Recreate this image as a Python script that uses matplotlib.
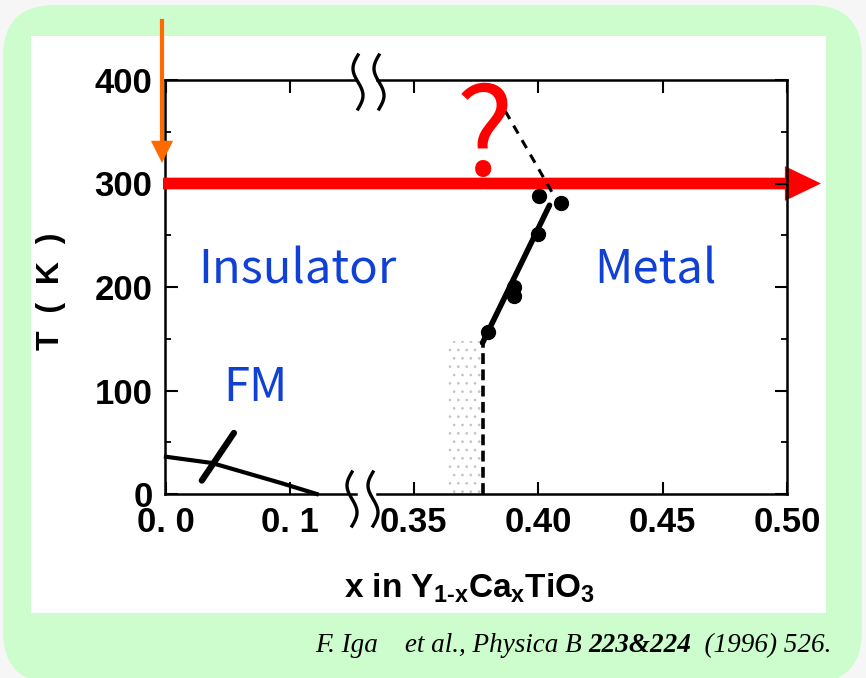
import numpy as np
import matplotlib
matplotlib.use("Agg")
import matplotlib.pyplot as plt
from matplotlib.patches import FancyBboxPatch, Rectangle
from matplotlib.lines import Line2D

# фазовая диаграмма Y(1-x)Ca(x)TiO3
fm_x = [0.0, 0.037, 0.092, 0.122]      # граница FM
fm_T = [36, 30, 11, 0]
mark_x = [0.029, 0.055]                # штрих на линии FM
mark_T = [13, 59]
mi_x = [0.3797, 0.3902, 0.3902, 0.3998, 0.4002, 0.4094]   # переход металл-изолятор
mi_T = [157, 191, 200, 251, 288, 281]
mi_fit_x = [0.3777, 0.4046]
mi_fit_T = [146, 279]
vert_x = [0.3777, 0.3777]
vert_T = [0, 146]
extra_x = [0.4055, 0.3825]             # пунктир к "?"
extra_T = [292, 388]
stip_x = [0.3637, 0.3772]
stip_T = [0, 148]

yticks = [0, 100, 200, 300, 400]
x1_ticks = [0.0, 0.1]
x1_labels = ["0. 0", "0. 1"]
x2_ticks = [0.35, 0.40, 0.45, 0.50]
x2_labels = ["0.35", "0.40", "0.45", "0.50"]
T_line = 300

W, H = 866, 678
def fx(px): return px / W
def fy(py): return 1 - py / H

plt.rcParams['font.family'] = ['Liberation Sans', 'DejaVu Sans']
plt.rcParams['font.weight'] = 'bold'
plt.rcParams['axes.labelweight'] = 'bold'
plt.rcParams['mathtext.fontset'] = 'custom'
plt.rcParams['mathtext.rm'] = 'Liberation Sans:bold'
plt.rcParams['mathtext.it'] = 'Liberation Sans:bold'
plt.rcParams['mathtext.bf'] = 'Liberation Sans:bold'
plt.rcParams['mathtext.default'] = 'rm'
plt.rcParams['hatch.linewidth'] = 0.7

fig = plt.figure(figsize=(W / 100, H / 100), dpi=100)
fig.patch.set_facecolor('#f6f6f6')

# зелёная рамка и белая подложка
box = FancyBboxPatch((fx(3), fy(683)), fx(862) - fx(3), fy(5) - fy(683),
                     boxstyle="round,pad=0,rounding_size=0.06",
                     transform=fig.transFigure, facecolor='#cdfccd',
                     edgecolor='none', zorder=-3, mutation_aspect=W / H)
fig.add_artist(box)
panel = Rectangle((fx(31), fy(613)), fx(826) - fx(31), fy(36) - fy(613),
                  transform=fig.transFigure, facecolor='white',
                  edgecolor='none', zorder=-2)
fig.add_artist(panel)

bottom = fy(494)
height = fy(80) - fy(494)
ax1 = fig.add_axes([fx(165), bottom, fx(356) - fx(165), height])
ax2 = fig.add_axes([fx(377), bottom, fx(787) - fx(377), height], sharey=ax1)

ax1.set_xlim(-0.0008, 0.1538)
ax2.set_xlim(0.3353, 0.5)
ax1.set_ylim(0, 400)

for ax in (ax1, ax2):
    ax.set_facecolor('none')
    for s in ax.spines.values():
        s.set_linewidth(1.8)
    ax.tick_params(direction='in', length=9, width=1.5, labelsize=25, pad=9)
    ax.tick_params(which='minor', direction='in', length=4, width=1.3)

ax1.spines['right'].set_visible(False)
ax2.spines['left'].set_visible(False)

ax1.set_yticks(yticks)
ax1.set_yticks(np.arange(50, 400, 100), minor=True)
ax1.set_xticks(x1_ticks, x1_labels)
ax1.tick_params(axis='x', top=True)
ax1.tick_params(axis='y', left=True, right=False)
ax1.tick_params(axis='y', which='minor', left=True, right=False)

ax2.set_xticks(x2_ticks, x2_labels)
ax2.tick_params(axis='x', top=True)
ax2.tick_params(axis='y', left=False, right=True, labelleft=False)
ax2.tick_params(axis='y', which='minor', left=False, right=True)

ax1.set_ylabel("T  (  K  )", fontsize=23, fontweight='bold')
ax1.yaxis.set_label_coords(-0.52, 0.49)
fig.text(fx(470), fy(588), r"x in Y$_{1\text{-}x}$Ca$_{x}$TiO$_{3}$",
         ha='center', va='center', fontsize=24)

# линия FM
ax1.plot(fm_x, fm_T, color='black', lw=3, clip_on=False)
ax1.plot(mark_x, mark_T, color='black', lw=4.5, solid_capstyle='round')

# переход металл-изолятор
ax2.fill_betweenx(stip_T, stip_x[0], stip_x[1], facecolor='none',
                  hatch='..', edgecolor='#c4c4c4', lw=0)
ax2.plot(vert_x, vert_T, color='black', lw=2.6, ls=(0, (3, 1.5)))
ax2.plot(mi_fit_x, mi_fit_T, color='black', lw=4, solid_capstyle='round')
ax2.plot(mi_x, mi_T, 'o', color='black', ms=10)
ax2.plot(extra_x, extra_T, color='black', lw=2.2, ls=(0, (3, 2.5)))

# значки разрыва оси
t = np.linspace(0, 1, 40)
for cx, cy in [(358, 82), (379, 82), (352, 499), (373, 499)]:
    xs = cx - 5 * np.sin(2 * np.pi * t)
    ys = cy - 27 + 54 * t
    fig.add_artist(Line2D(fx(xs), fy(ys), transform=fig.transFigure,
                          color='black', lw=2.4, zorder=5))

# подписи фаз
blue = '#1140d4'
cjk = ['Noto Sans CJK JP', 'DejaVu Sans']
fig.text(fx(297), fy(270), "Insulator", color=blue, fontsize=34,
         family=cjk, weight='normal', ha='center', va='center')
fig.text(fx(655), fy(270), "Metal", color=blue, fontsize=34,
         family=cjk, weight='normal', ha='center', va='center')
fig.text(fx(255), fy(388), "FM", color=blue, fontsize=34,
         family=cjk, weight='normal', ha='center', va='center')
ax2.text(0.3785, 342, "?", color='red', fontsize=88, family=cjk,
         weight='normal', ha='center', va='center')

# стрелки
ax1.annotate('', xy=(fx(821), T_line), xycoords=('figure fraction', 'data'),
             xytext=(fx(163), T_line), textcoords=('figure fraction', 'data'),
             arrowprops=dict(arrowstyle='simple,head_length=1.3,head_width=1.25,tail_width=0.42',
                             color='red', lw=0, mutation_scale=20,
                             shrinkA=0, shrinkB=0),
             annotation_clip=False, zorder=10)
fig.add_artist(Line2D([fx(162), fx(162)], [fy(21), fy(150)],
                      transform=fig.transFigure, color='#ff6a00', lw=3, zorder=10))
ax1.annotate('', xy=(fx(162), fy(163)), xycoords='figure fraction',
             xytext=(fx(162), fy(145)), textcoords='figure fraction',
             arrowprops=dict(arrowstyle='-|>,head_length=0.8,head_width=0.4',
                             color='#ff6a00', lw=0, mutation_scale=20,
                             shrinkA=0, shrinkB=0),
             annotation_clip=False, zorder=10)

# ссылка
serif = 'Liberation Serif'
t1 = fig.text(fx(315), fy(646), "F. Iga    et al., Physica B ", family=serif,
              style='italic', weight='normal', fontsize=19.5, va='center')
t2 = ax1.annotate("223&224", xy=(1, 0), xycoords=t1, family=serif,
                  style='italic', weight='bold', fontsize=19.5, va='bottom',
                  annotation_clip=False)
ax1.annotate("  (1996) 526.", xy=(1, 0), xycoords=t2, family=serif,
             style='italic', weight='normal', fontsize=19.5, va='bottom',
             annotation_clip=False)

fig.savefig("out.png", dpi=100, facecolor=fig.get_facecolor())
